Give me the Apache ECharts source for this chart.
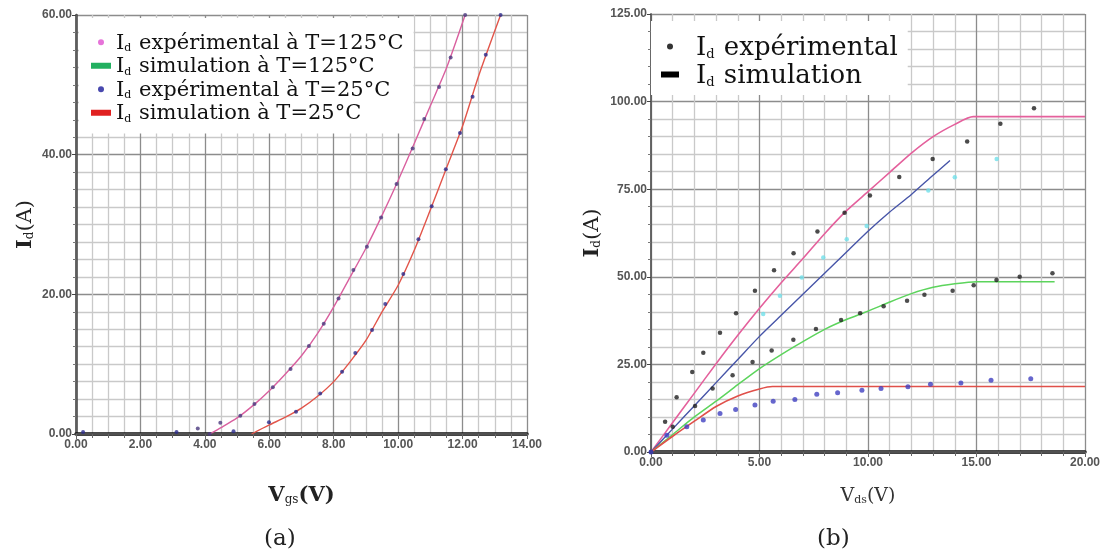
<!DOCTYPE html>
<html>
<head>
<meta charset="utf-8">
<script src="https://cdn.jsdelivr.net/npm/echarts@6/dist/echarts.min.js"></script>
<style>html,body{margin:0;padding:0;background:#fff;}#c{width:1104px;height:556px;}</style>
</head>
<body>
<div id="c"></div>
<script>
// ---------- (a) Id vs Vgs ----------
const vgsTicks = [0, 2, 4, 6, 8, 10, 12, 14];
const idTicksA = [0, 20, 40, 60];
const vgsExp125 = [3.78, 4.15, 4.48, 5.10, 5.54, 6.11, 6.66, 7.23, 7.69, 8.15, 8.61, 9.03, 9.47, 9.95, 10.45, 10.81, 11.27, 11.63, 12.08];
const idExp125  = [0.8, 0, 1.6, 2.6, 4.3, 6.7, 9.3, 12.6, 15.8, 19.4, 23.5, 26.8, 31.0, 35.8, 40.9, 45.1, 49.7, 53.9, 60];
const vgsExp25  = [0.22, 3.12, 4.89, 5.99, 6.83, 7.58, 8.26, 8.67, 9.19, 9.60, 10.16, 10.63, 11.04, 11.48, 11.92, 12.31, 12.72, 13.18];
const idExp25   = [0.3, 0.3, 0.4, 1.7, 3.2, 5.8, 8.9, 11.6, 14.9, 18.6, 22.9, 27.9, 32.6, 37.9, 43.1, 48.3, 54.3, 60];
const vgsSim125 = [4.15, 4.5, 5.0, 5.5, 6.0, 6.5, 7.0, 7.5, 8.0, 8.5, 9.0, 9.5, 10.0, 10.5, 11.0, 11.5, 12.08];
const idSim125  = [0, 0.9, 2.3, 4.1, 6.2, 8.6, 11.2, 14.4, 18.2, 22.4, 26.6, 31.3, 36.3, 41.6, 47.0, 52.4, 60];
const vgsSim25  = [5.45, 6.0, 6.5, 7.0, 7.5, 8.0, 8.5, 9.0, 9.5, 10.0, 10.5, 11.0, 11.5, 12.0, 12.5, 13.18];
const idSim25   = [0, 1.3, 2.4, 3.7, 5.4, 7.5, 10.3, 13.4, 17.5, 21.3, 26.3, 32.1, 38.1, 44.1, 51.3, 60];

// ---------- (b) Id vs Vds ----------
const vdsTicks = [0, 5, 10, 15, 20];
const idTicksB = [0, 25, 50, 75, 100, 125];
const vdsSimPink  = [0, 1, 2, 3, 4, 5, 6, 7, 8, 9, 10, 11, 12, 13, 14, 14.85, 20];
const idSimPink   = [0, 8.4, 16.8, 25.2, 33.3, 41, 48.3, 55.2, 62.3, 68.8, 74.3, 79.8, 85.3, 90, 93.5, 95.7, 95.7];
const vdsSimBlue  = [0, 1, 2, 3, 4, 5, 6, 7, 8, 9, 10, 11, 12, 13, 13.78];
const idSimBlue   = [0, 6.6, 13.2, 19.8, 26.4, 33, 39, 45, 51, 57, 63, 68.5, 73.5, 79, 83.2];
const vdsSimGreen = [0, 1, 2, 3, 4, 5, 6, 7, 8, 9, 10, 11, 12, 13, 14, 15, 18.6];
const idSimGreen  = [0, 5, 10, 14.5, 19.2, 23.8, 27.8, 31.5, 35, 37.8, 40.2, 42.8, 45.2, 47, 48, 48.6, 48.6];
const vdsSimRed   = [0, 1, 2, 3, 4, 5, 5.6, 20];
const idSimRed    = [0, 4.5, 8.8, 13, 16, 18, 18.7, 18.7];
const vdsExpBlack = [0, 0.65, 1.18, 1.9, 2.41, 3.18, 3.92, 4.79, 5.67, 6.57, 7.67, 8.92, 10.09, 11.44, 12.98, 14.57, 16.1, 17.65];
const idExpBlack  = [0, 8.6, 15.6, 22.8, 28.3, 34, 39.6, 46, 51.9, 56.7, 62.9, 68.3, 73.2, 78.5, 83.6, 88.6, 93.7, 98.1];
const vdsExpCyan  = [5.17, 5.94, 6.95, 7.94, 9.02, 9.94, 12.78, 14.0, 15.93];
const idExpCyan   = [39.4, 44.6, 49.8, 55.5, 60.7, 64.5, 74.6, 78.4, 83.6];
const vdsExpDark  = [1.0, 2.03, 2.84, 3.76, 4.68, 5.56, 6.56, 7.6, 8.76, 9.64, 10.72, 11.8, 12.6, 13.9, 14.87, 15.92, 16.99, 18.5];
const idExpDark   = [7.2, 13.1, 18.1, 21.9, 25.7, 29, 32, 35.1, 37.7, 39.6, 41.6, 43.2, 44.9, 46, 47.6, 49.1, 50, 51];
const vdsExpBlue  = [0, 0.73, 1.65, 2.41, 3.18, 3.9, 4.79, 5.63, 6.63, 7.64, 8.6, 9.72, 10.6, 11.84, 12.88, 14.28, 15.67, 17.5];
const idExpBlue   = [0, 4.8, 7.2, 9.1, 11, 12.1, 13.4, 14.5, 15, 16.5, 16.9, 17.6, 18.1, 18.6, 19.3, 19.7, 20.5, 20.9];

const zip = (xs, ys) => xs.map((x, i) => [x, ys[i]]);
const serif = 'DejaVu Serif';
const sans = 'Liberation Sans';

const richId = {
  i: { fontFamily: serif, fontSize: 21, color: '#111', lineHeight: 23.5, verticalAlign: 'bottom' },
  d: { fontFamily: serif, fontSize: 11, color: '#111', lineHeight: 23.5, verticalAlign: 'bottom', padding: [0, 1, 0, 0] },
  t: { fontFamily: serif, fontSize: 21, color: '#111', lineHeight: 23.5, verticalAlign: 'bottom' }
};
const richIdB = {
  sp: { width: 12 },
  i: { fontFamily: serif, fontSize: 26, color: '#111', lineHeight: 29, verticalAlign: 'bottom' },
  d: { fontFamily: serif, fontSize: 13, color: '#111', lineHeight: 29, verticalAlign: 'bottom', padding: [0, 1, 0, 0] },
  t: { fontFamily: serif, fontSize: 26, color: '#111', lineHeight: 29, verticalAlign: 'bottom' }
};
const legendTextA = {
  e125: '{i|I}{d|d}{t| expérimental à T=125°C}',
  s125: '{i|I}{d|d}{t| simulation à T=125°C}',
  e25:  '{i|I}{d|d}{t| expérimental à T=25°C}',
  s25:  '{i|I}{d|d}{t| simulation à T=25°C}'
};
const legendTextB = {
  exp: '{sp|}{i|I}{d|d}{t| expérimental}',
  sim: '{sp|}{i|I}{d|d}{t| simulation}'
};

const minorGrid = { show: true, lineStyle: { color: '#c9c9c9', width: 1.3 } };
const majorGrid = { show: true, lineStyle: { color: '#8c8c8c', width: 1.3 } };
const tickLabel = { color: '#555', fontFamily: sans, fontWeight: 'bold', fontSize: 12, formatter: v => v.toFixed(2) };

function xBottom(grid, max, interval, split, name, nameGap, nameStyle) {
  return {
    gridIndex: grid, type: 'value', min: 0, max: max, interval: interval,
    axisLine: { show: true, onZero: false, lineStyle: { color: '#111', width: 3.5 } },
    axisTick: { show: true, length: 4, lineStyle: { color: '#444' } },
    minorTick: { show: true, splitNumber: split, length: 3, lineStyle: { color: '#666' } },
    axisLabel: Object.assign({ margin: 5 }, tickLabel),
    splitLine: majorGrid, minorSplitLine: minorGrid,
    name: name, nameLocation: 'middle', nameGap: nameGap, nameTextStyle: nameStyle
  };
}
function xTop(grid, max, interval, split) {
  return {
    gridIndex: grid, type: 'value', position: 'top', min: 0, max: max, interval: interval,
    axisLine: { show: true, lineStyle: { color: '#666', width: 1.5 } },
    axisTick: { show: true, inside: true, length: 5, lineStyle: { color: '#666' } },
    minorTick: { show: true, splitNumber: split, length: 4, lineStyle: { color: '#666' } },
    axisLabel: { show: false }, splitLine: { show: false }
  };
}
function yLeft(grid, max, interval, split, name, nameGap, lineW) {
  return {
    gridIndex: grid, type: 'value', min: 0, max: max, interval: interval,
    axisLine: { show: true, onZero: false, lineStyle: { color: '#444', width: lineW } },
    axisTick: { show: true, length: 4, lineStyle: { color: '#444' } },
    minorTick: { show: true, splitNumber: split, length: 3, lineStyle: { color: '#777' } },
    axisLabel: Object.assign({ margin: 4 }, tickLabel),
    splitLine: majorGrid, minorSplitLine: minorGrid,
    name: name, nameLocation: 'middle', nameGap: nameGap, nameRotate: 90,
    nameTextStyle: { rich: {
      i: { fontFamily: serif, fontSize: 21, fontWeight: 'bold', color: '#222', lineHeight: 24, verticalAlign: 'bottom' },
      d: { fontFamily: serif, fontSize: 12, color: '#222', lineHeight: 24, verticalAlign: 'bottom' },
      t: { fontFamily: serif, fontSize: 21, color: '#222', lineHeight: 24, verticalAlign: 'bottom' }
    } }
  };
}
function yRight(grid, max, interval, split) {
  return {
    gridIndex: grid, type: 'value', position: 'right', min: 0, max: max, interval: interval,
    axisLine: { show: true, lineStyle: { color: '#666', width: 1.5 } },
    axisTick: { show: false }, axisLabel: { show: false }, splitLine: { show: false }
  };
}

const lineS = (name, xi, yi, data, color, w) => ({
  name: name, type: 'line', xAxisIndex: xi, yAxisIndex: yi, data: data,
  showSymbol: false, symbol: 'none', smooth: 0.25, lineStyle: { color: color, width: w }, itemStyle: { color: color }, z: 3
});
const dotS = (name, xi, yi, data, color, size) => ({
  name: name, type: 'scatter', xAxisIndex: xi, yAxisIndex: yi, data: data,
  symbol: 'circle', symbolSize: size, itemStyle: { color: color }, z: 4
});

const option = {
  animation: false,
  backgroundColor: '#fff',
  grid: [
    { left: 76, top: 15, width: 451, height: 419, containLabel: false },
    { left: 651, top: 14, width: 434, height: 438, containLabel: false }
  ],
  xAxis: [
    xBottom(0, 14, 2, 4, '{a|V}{b|gs}{a|(V)}', 48, { rich: {
      a: { fontFamily: serif, fontSize: 21, fontWeight: 'bold', color: '#222', lineHeight: 24, verticalAlign: 'bottom' },
      b: { fontFamily: serif, fontSize: 12, color: '#222', lineHeight: 24, verticalAlign: 'bottom' } } }),
    xBottom(1, 20, 5, 5, '{a|V}{b|ds}{a|(V)}', 32, { rich: {
      a: { fontFamily: serif, fontSize: 19, color: '#333', lineHeight: 22, verticalAlign: 'bottom' },
      b: { fontFamily: serif, fontSize: 11, color: '#333', lineHeight: 22, verticalAlign: 'bottom' } } }),
    xTop(0, 14, 2, 4),
    xTop(1, 20, 5, 5)
  ],
  yAxis: [
    yLeft(0, 60, 20, 8, '{i|I}{d|d}{t|(A)}', 40, 2.5),
    yLeft(1, 125, 25, 5, '{i|I}{d|d}{t|(A)}', 48, 1.5),
    yRight(0, 60, 20, 8),
    yRight(1, 125, 25, 5)
  ],
  legend: [
    {
      left: 79, top: 18, orient: 'vertical', backgroundColor: '#fff', padding: [15, 10, 9, 12],
      itemWidth: 20, itemHeight: 6, itemGap: 2.5, symbolKeepAspect: true,
      data: [
        { name: 'e125', icon: 'circle', itemStyle: { color: '#e050d0' } },
        { name: 's125', icon: 'rect', itemStyle: { color: '#22b060' } },
        { name: 'e25', icon: 'circle', itemStyle: { color: '#1a1a9a' } },
        { name: 's25', icon: 'rect', itemStyle: { color: '#e02020' } }
      ],
      formatter: n => legendTextA[n],
      textStyle: { rich: richId }
    },
    {
      left: 651, top: 21, orient: 'vertical', backgroundColor: '#fff', padding: [14, 10, 6, 10],
      itemWidth: 18, itemHeight: 6, itemGap: 2, symbolKeepAspect: true,
      data: [
        { name: 'exp', icon: 'circle', itemStyle: { color: '#000' } },
        { name: 'sim', icon: 'rect', itemStyle: { color: '#000' } }
      ],
      formatter: n => legendTextB[n],
      textStyle: { rich: richIdB }
    }
  ],
  series: [
    lineS('s125', 0, 0, zip(vgsSim125, idSim125), '#d9609f', 1.4),
    lineS('s25', 0, 0, zip(vgsSim25, idSim25), '#e2554a', 1.4),
    dotS('e125', 0, 0, zip(vgsExp125, idExp125), '#4a3a7e', 4),
    dotS('e25', 0, 0, zip(vgsExp25, idExp25), '#2a2a8c', 4),

    lineS('sim', 1, 1, zip(vdsSimPink, idSimPink), '#e4609c', 1.6),
    lineS('sim', 1, 1, zip(vdsSimBlue, idSimBlue), '#4755a8', 1.4),
    lineS('sim', 1, 1, zip(vdsSimGreen, idSimGreen), '#5cd45c', 1.5),
    lineS('sim', 1, 1, zip(vdsSimRed, idSimRed), '#e0504a', 1.6),
    dotS('exp', 1, 1, zip(vdsExpBlack, idExpBlack), '#1e1e1e', 4.5),
    dotS('exp', 1, 1, zip(vdsExpCyan, idExpCyan), '#70e0ea', 4.5),
    dotS('exp', 1, 1, zip(vdsExpDark, idExpDark), '#222222', 4.5),
    dotS('exp', 1, 1, zip(vdsExpBlue, idExpBlue), '#4040c0', 5)
  ],
  graphic: [
    { type: 'text', left: 264, top: 528, style: { text: '(a)', font: '23px "DejaVu Serif"', fill: '#222' } },
    { type: 'text', left: 817, top: 528, style: { text: '(b)', font: '23px "DejaVu Serif"', fill: '#222' } }
  ]
};

const chart = echarts.init(document.getElementById('c'), null, { renderer: 'canvas' });
chart.setOption(option);
</script>
</body>
</html>
